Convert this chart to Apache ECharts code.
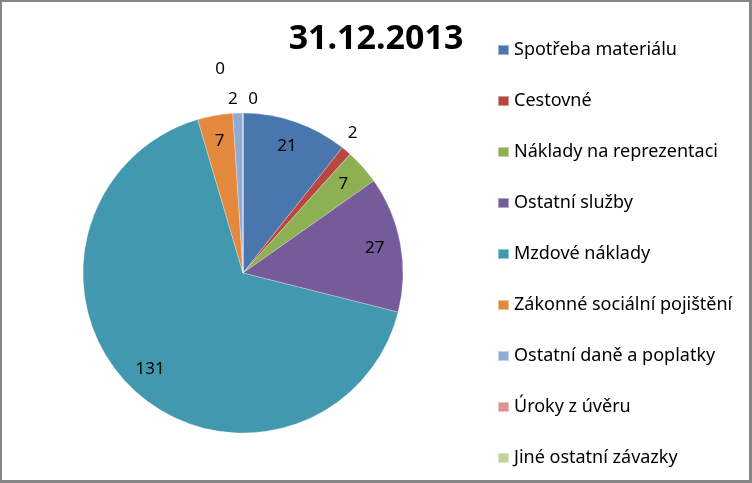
<!DOCTYPE html>
<html>
<head>
<meta charset="utf-8">
<script src="https://cdn.jsdelivr.net/npm/echarts@6/dist/echarts.min.js"></script>
<style>
  html, body { margin: 0; padding: 0; background: #ffffff; }
  #wrap { position: relative; width: 752px; height: 483px; }
  #chart { position: absolute; left: 0; top: 0; width: 752px; height: 483px; }
  #frame { position: absolute; left: 0; top: 0; width: 752px; height: 483px; box-sizing: border-box;
           border-left: 2px solid #868686; border-top: 2px solid #868686;
           border-right: 3px solid #868686; border-bottom: 3px solid #868686; pointer-events: none; }
</style>
</head>
<body>
<div id="wrap"><div id="chart"></div><div id="frame"></div></div>
<script>
const titleText = '31.12.2013';
const categories = [
  'Spotřeba materiálu',
  'Cestovné',
  'Náklady na reprezentaci',
  'Ostatní služby',
  'Mzdové náklady',
  'Zákonné sociální pojištění',
  'Ostatní daně a poplatky',
  'Úroky z úvěru',
  'Jiné ostatní závazky'
];
const values = [21, 2, 7, 27, 131, 7, 2, 0, 0];
const colors = ['#4A76AE', '#B9473F', '#8DB053', '#765B9A', '#4198AF', '#E2893E', '#93ABD3', '#D89593', '#BED49A'];

// label styling: which slices carry their value inside, and nudges for outside ones
const insideLabels = [true, false, true, true, true, true, false, false, false];
const outsideOffsets = [null, [-6, -15], null, null, null, null, [5, -10], [20, -10], [-13, -40]];

const FONT = 'Noto Sans';
const chart = echarts.init(document.getElementById('chart'), null, { renderer: 'canvas' });

const pieData = categories.map((name, i) => {
  const item = { name: name, value: values[i], itemStyle: { color: colors[i] } };
  if (!insideLabels[i]) {
    item.label = { show: true, position: 'outside', offset: outsideOffsets[i] || [0, 0] };
  }
  return item;
});
const labelData = categories.map((name, i) => ({
  name: name, value: values[i],
  label: { show: insideLabels[i] }
}));

chart.setOption({
  backgroundColor: '#ffffff',
  animation: false,
  title: {
    text: titleText,
    left: 'center',
    top: 22,
    padding: 0,
    textStyle: { fontFamily: FONT, fontWeight: 'bold', fontSize: 34, color: '#000000' }
  },
  legend: {
    orient: 'vertical',
    left: 497,
    top: 40,
    padding: 0,
    itemWidth: 11,
    itemHeight: 10,
    itemGap: 31,
    icon: 'rect',
    data: categories,
    textStyle: { fontFamily: FONT, fontSize: 18, color: '#000000', lineHeight: 20 }
  },
  series: [
    {
      type: 'pie',
      center: [243, 273],
      radius: [0, 160],
      startAngle: 90,
      clockwise: true,
      avoidLabelOverlap: false,
      silent: true,
      itemStyle: { borderColor: 'rgba(255,255,255,0.45)', borderWidth: 0.6 },
      label: {
        show: false,
        formatter: '{c}',
        fontFamily: FONT, fontSize: 17, color: '#000000'
      },
      labelLine: { show: false, length: 4, length2: 0 },
      data: pieData
    },
    {
      type: 'pie',
      center: [243, 273],
      radius: [0, 262],
      startAngle: 90,
      clockwise: true,
      avoidLabelOverlap: false,
      silent: true,
      itemStyle: { color: 'rgba(0,0,0,0)', borderWidth: 0 },
      label: {
        show: true,
        position: 'inside',
        formatter: '{c}',
        fontFamily: FONT, fontSize: 17, color: '#000000'
      },
      labelLine: { show: false },
      data: labelData
    }
  ]
});
</script>
</body>
</html>
